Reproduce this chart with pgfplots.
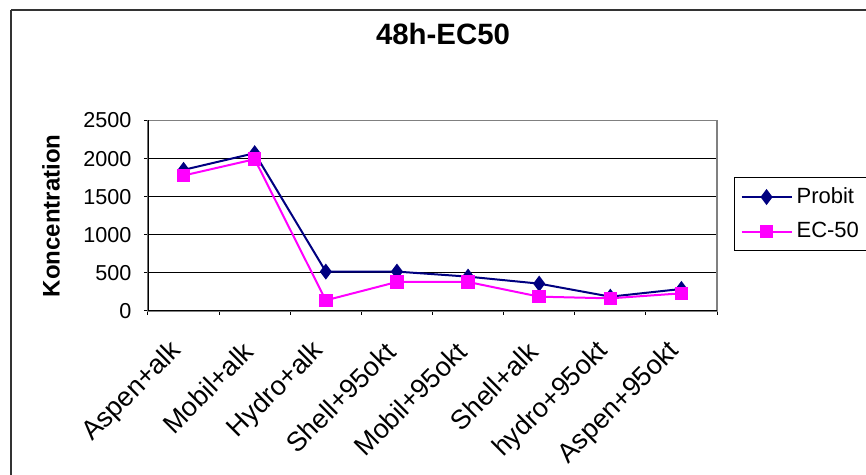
\documentclass[border=0pt]{standalone}
\usepackage{pgfplots}
\pgfplotsset{compat=1.18}
\usepackage{fontspec}
\setmainfont{Liberation Sans}
\definecolor{navyline}{RGB}{0,0,128}
\definecolor{magline}{RGB}{255,0,255}
\begin{document}
\begin{tikzpicture}[x=1pt,y=1pt]
\useasboundingbox (0,0) rectangle (433,237.5);
\begin{scope}
\clip (0,0) rectangle (433,237.5);
\draw[black!80, line width=0.7pt] (5.5,232.5) -- (450,232.5);
\draw[black!80, line width=0.7pt] (5.5,232.5) -- (5.5,-10);
\end{scope}
\begin{axis}[
  at={(74pt,82pt)}, anchor=south west,
  scale only axis, width=284.5pt, height=95.25pt,
  xmin=-0.5, xmax=7.5, ymin=0, ymax=2500,
  ytick={0,500,...,2500},
  xtick={-0.5,0.5,...,7.5}, xticklabels={},
  extra x ticks={0,1,2,3,4,5,6,7},
  extra x tick labels={Aspen+alk,Mobil+alk,Hydro+alk,Shell+95okt,Mobil+95okt,Shell+alk,hydro+95okt,Aspen+95okt},
  extra x tick style={major tick length=0pt, grid=none,
    xticklabel style={font=\fontsize{13.5}{15}\selectfont, inner sep=0pt, xshift=-3pt, yshift=-18pt, rotate=45, anchor=east}},
  tick pos=left, tick align=outside, major tick length=2pt,
  tick style={black, line width=0.5pt},
  ymajorgrids, grid style={black, line width=0.5pt},
  axis line style={gray, line width=0.6pt},
  /pgf/number format/assume math mode=true,
  /pgf/number format/1000 sep={},
  yticklabel style={font=\fontsize{10.8}{13}\selectfont, xshift=-2.75pt},
  ylabel={Koncentration},
  ylabel style={at={(axis description cs:-0.1705,0.499)}, anchor=center, font=\fontsize{12}{14}\selectfont\bfseries},
  title={48h-EC50},
  title style={at={(axis description cs:0.5185,1.392)}, anchor=center, font=\fontsize{14.7}{17}\selectfont\bfseries},
  legend style={at={(1.03,0.703)}, anchor=north west, draw=black, line width=0.5pt,
    font=\fontsize{11}{13}\selectfont, row sep=4pt, inner xsep=3pt, inner ysep=3pt},
  legend cell align=left,
  legend image code/.code={\draw[mark repeat=2,mark phase=2] plot coordinates {(0pt,0pt) (12.5pt,0pt) (25pt,0pt)};},
]
\addplot[navyline, line width=1pt, mark=diamond*, mark size=3.2pt, mark options={fill=navyline, draw=navyline}]
  coordinates {(0,1852) (1,2071) (2,517) (3,517) (4,451) (5,359) (6,188) (7,289)};
\addlegendentry{Probit}
\addplot[magline, line width=1pt, mark=square*, mark size=2.9pt, mark options={fill=magline, draw=magline}]
  coordinates {(0,1778) (1,1992) (2,140) (3,381) (4,381) (5,188) (6,166) (7,232)};
\addlegendentry{EC-50}
\draw[black, line width=0.6pt] (rel axis cs:0,1) -- (rel axis cs:0,0) -- (rel axis cs:1,0);
\end{axis}
\end{tikzpicture}
\end{document}
